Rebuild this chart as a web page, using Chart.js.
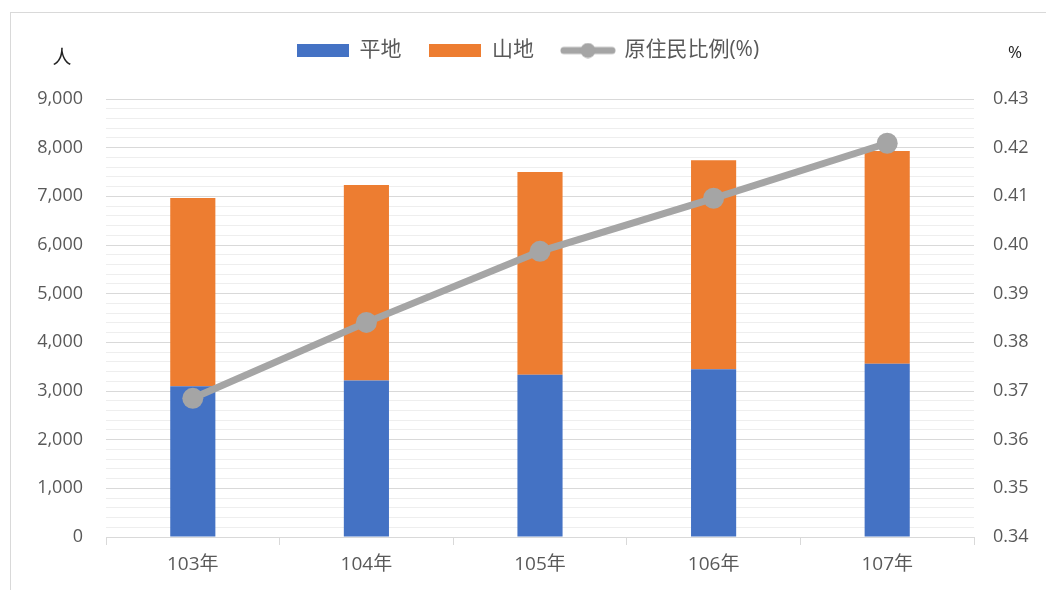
<!DOCTYPE html>
<html>
<head>
<meta charset="utf-8">
<script src="https://cdn.jsdelivr.net/npm/chart.js@4.4.1/dist/chart.umd.min.js"></script>
<style>
  html, body { margin: 0; padding: 0; background: #fff; }
  #wrap { position: relative; width: 1046px; height: 590px; }
  #frame { position: absolute; left: 10px; top: 12px; width: 1040px; height: 590px;
           border-left: 1px solid #d9d9d9; border-top: 1px solid #d9d9d9; }
  canvas { position: absolute; left: 0; top: 0; }
</style>
</head>
<body>
<div id="wrap">
  <div id="frame"></div>
  <canvas id="chart" width="1046" height="590"></canvas>
</div>
<script>
// ============================================
// DATA
// ============================================
const years = ['103年', '104年', '105年', '106年', '107年'];
const flatLand = [3100, 3217, 3334, 3449, 3559];      // 平地
const mountain = [3867, 4017, 4166, 4291, 4371];      // 山地
const ratio = [0.3685, 0.3841, 0.3987, 0.4096, 0.4209]; // 原住民比例(%)

const leftTicks = { min: 0, max: 9000, step: 1000, minor: 200 };
const rightTicks = { min: 0.34, max: 0.43, step: 0.01 };

const BLUE = '#4472c4';
const ORANGE = '#ed7d31';
const GRAY = '#a5a5a5';
const TEXT = '#595959';
const FONT = "'Open Sans', 'Noto Sans CJK TC', sans-serif";

// legend icons
function boxIcon(color) {
  const c = document.createElement('canvas');
  c.width = 52; c.height = 13;
  const g = c.getContext('2d');
  g.fillStyle = color;
  g.fillRect(0, 0, 52, 13);
  return c;
}
function lineIcon(color) {
  const c = document.createElement('canvas');
  c.width = 56; c.height = 16;
  const g = c.getContext('2d');
  g.strokeStyle = color;
  g.lineWidth = 7;
  g.lineCap = 'round';
  g.beginPath(); g.moveTo(4, 8); g.lineTo(52, 8); g.stroke();
  g.fillStyle = color;
  g.beginPath(); g.arc(28, 8, 7.5, 0, Math.PI * 2); g.fill();
  return c;
}
const legendIcons = {
  '平地': boxIcon(BLUE),
  '山地': boxIcon(ORANGE),
  '原住民比例(%)': lineIcon(GRAY)
};

// axis unit labels 人 / %
const unitLabels = {
  id: 'unitLabels',
  afterDraw(chart) {
    const { ctx, chartArea } = chart;
    ctx.save();
    ctx.fillStyle = '#222';
    ctx.font = '19px ' + FONT;
    ctx.textAlign = 'center';
    ctx.textBaseline = 'middle';
    ctx.fillText('人', chartArea.left - 44, chartArea.top - 40);
    ctx.font = '17px ' + FONT;
    ctx.fillText('%', chartArea.right + 41, chartArea.top - 46);
    ctx.restore();
  }
};

new Chart(document.getElementById('chart'), {
  data: {
    labels: years,
    datasets: [
      {
        type: 'line',
        label: '原住民比例(%)',
        data: ratio,
        xAxisID: 'x',
        yAxisID: 'y1',
        borderColor: GRAY,
        backgroundColor: GRAY,
        borderWidth: 7,
        pointStyle: 'circle',
        pointRadius: 10.5,
        pointHoverRadius: 10.5,
        pointBackgroundColor: GRAY,
        pointBorderWidth: 0,
        order: 0
      },
      {
        type: 'bar',
        label: '平地',
        data: flatLand,
        xAxisID: 'x',
        yAxisID: 'y',
        backgroundColor: BLUE,
        order: 1
      },
      {
        type: 'bar',
        label: '山地',
        data: mountain,
        xAxisID: 'x',
        yAxisID: 'y',
        backgroundColor: ORANGE,
        order: 1
      }
    ]
  },
  options: {
    responsive: false,
    animation: false,
    datasets: { bar: { categoryPercentage: 1, barPercentage: 0.26 } },
    layout: { padding: { top: 12, left: 10, right: 0, bottom: 0 } },
    plugins: {
      tooltip: { enabled: false },
      legend: {
        position: 'top',
        labels: {
          usePointStyle: true,
          pointStyleWidth: 52,
          boxHeight: 13,
          padding: 28,
          color: TEXT,
          font: { family: FONT, size: 21 },
          sort: (a, b) => {
            const order = ['平地', '山地', '原住民比例(%)'];
            return order.indexOf(a.text) - order.indexOf(b.text);
          },
          generateLabels(chart) {
            const items = Chart.defaults.plugins.legend.labels.generateLabels(chart);
            items.forEach(it => { it.pointStyle = legendIcons[it.text]; });
            return items;
          }
        }
      }
    },
    scales: {
      x: {
        stacked: true,
        border: { color: '#d9d9d9' },
        grid: { offset: true, drawOnChartArea: false, drawTicks: true, tickLength: 8, color: '#d9d9d9' },
        ticks: { color: TEXT, font: { family: FONT, size: 19 }, padding: 8 },
        afterFit: s => { s.height = 53; }
      },
      gap: {
        type: 'category',
        position: 'top',
        grid: { display: false },
        border: { display: false },
        ticks: { display: false },
        afterFit: s => { s.height = 28; }
      },
      y: {
        stacked: true,
        position: 'left',
        min: leftTicks.min,
        max: leftTicks.max,
        border: { display: false },
        grid: { color: '#d9d9d9', drawTicks: false },
        ticks: {
          stepSize: leftTicks.step,
          color: TEXT,
          padding: 23,
          font: { family: FONT, size: 18 },
          callback: v => v.toLocaleString('en-US')
        },
        afterFit: s => { s.width = 96; }
      },
      yMinor: {
        position: 'left',
        min: leftTicks.min,
        max: leftTicks.max,
        border: { display: false },
        grid: {
          drawTicks: false,
          color: ctx => (ctx.tick && ctx.tick.value % leftTicks.step === 0) ? 'rgba(0,0,0,0)' : '#eeeeee'
        },
        ticks: { stepSize: leftTicks.minor, display: false },
        afterFit: s => { s.width = 0; }
      },
      y1: {
        position: 'right',
        min: rightTicks.min,
        max: rightTicks.max,
        border: { display: false },
        grid: { drawOnChartArea: false, drawTicks: false },
        ticks: {
          stepSize: rightTicks.step,
          color: TEXT,
          padding: 19,
          font: { family: FONT, size: 18 },
          callback: v => v.toFixed(2)
        },
        afterFit: s => { s.width = 72; }
      }
    }
  },
  plugins: [unitLabels]
});
</script>
</body>
</html>
